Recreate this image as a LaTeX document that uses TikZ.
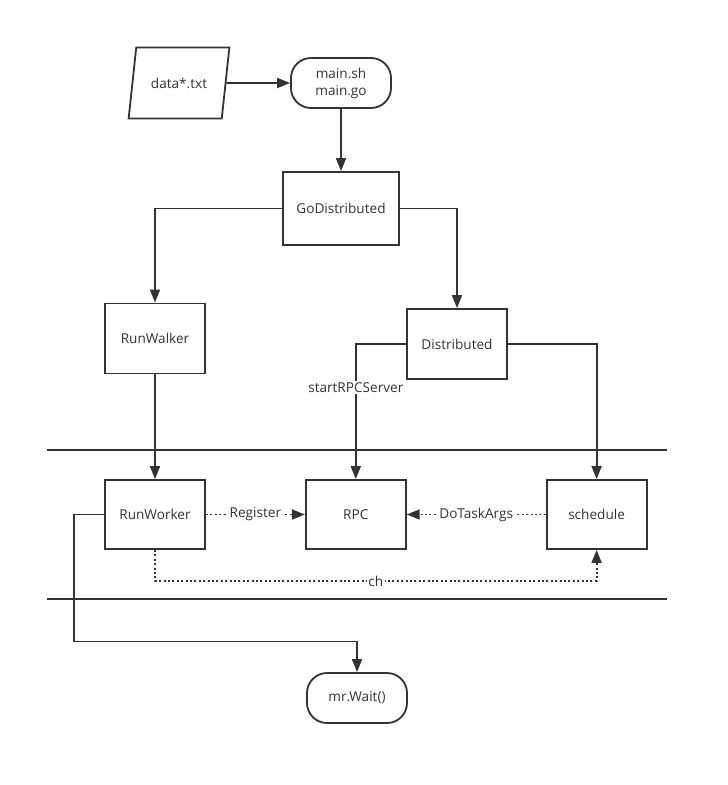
\documentclass[tikz,border=0pt]{standalone}
\usepackage{fontspec}
\setmainfont{Open Sans}
\usetikzlibrary{positioning,shapes.geometric,arrows.meta}
\definecolor{ink}{HTML}{333333}

\begin{document}
\begin{tikzpicture}[x=1pt,y=-1pt,line width=1.8pt,color=ink,
    font=\fontsize{13.6}{17}\selectfont,
    box/.style={draw,rectangle,minimum width=100pt,minimum height=70pt,inner sep=0pt},
    term/.style={draw,rectangle,rounded corners=20pt,minimum width=100pt,minimum height=50pt,align=center},
    io/.style={draw,trapezium,trapezium left angle=72,trapezium right angle=108,
      trapezium stretches=true,minimum width=101pt,minimum height=71pt},
    flow/.style={-{Triangle[length=13pt,width=10pt]}},
    msg/.style={flow,dash pattern=on 2pt off 2.4pt},
    tag/.style={fill=white,inner sep=1.5pt}]
      \useasboundingbox (0,0) rectangle (728,785);
      % Define nodes
      \node[io]                       (data)   at (179,83)     {data*.txt};
      \node[term]                     (main)   at (341,83)     {main.sh\\main.go};
      \node[box,minimum width=116pt,minimum height=73pt]
                                      (godist) at (341,208.5)  {GoDistributed};
      \node[box]                      (walker) at (155,338.5)  {RunWalker};
      \node[box]                      (dist)   at (457,344)    {Distributed};
      \node[box,minimum height=69pt]  (worker) at (155,514.5)  {RunWorker};
      \node[box,minimum height=69pt,right=99pt of worker] (rpc)   {RPC};
      \node[box,minimum height=69pt,right=139pt of rpc]   (sched) {schedule};
      \node[term]                     (wait)   at (357,698)    {mr.Wait()};
      % Separators
      \draw[line width=2pt] (47,450) -- (667,450);
      \draw[line width=2pt] (47,599) -- (667,599);
      % Connect nodes
      \draw[flow] (data) -- (main);
      \draw[flow] (main) -- (godist);
      \draw[flow] (godist.west) -| (walker.north);
      \draw[flow] (godist.east) -| (dist.north);
      \draw[flow] (walker) -- (worker);
      \draw[flow] (dist.west) -| node[tag,pos=0.66] {startRPCServer} (rpc.north);
      \draw[flow] (dist.east) -| (sched.north);
      \draw[msg] (worker) -- node[tag] {Register} (rpc);
      \draw[msg] (sched) -- node[tag] {DoTaskArgs} (rpc);
      \draw[msg] (worker.south) -- ++(0,31) -| node[tag,pos=0.25] {ch} (sched.south);
      \draw[flow] (worker.west) -| ++(-30,127) -| (wait.north);
    \end{tikzpicture}
\end{document}
